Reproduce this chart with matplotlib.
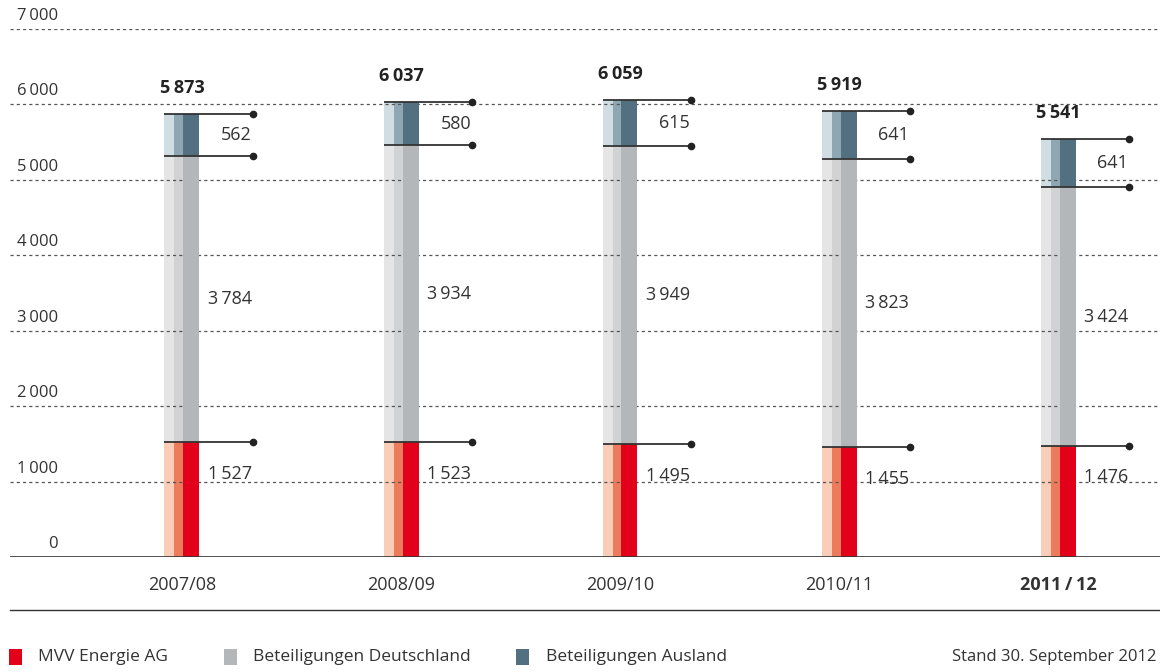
import matplotlib.pyplot as plt
from matplotlib.lines import Line2D
from matplotlib.patches import Rectangle

plt.rcParams['font.family'] = ['Open Sans', 'DejaVu Sans']

# ---- data ----
years = ['2007/08', '2008/09', '2009/10', '2010/11', '2011\u2009/\u200912']
mvv = [1527, 1523, 1495, 1455, 1476]
deutschland = [3784, 3934, 3949, 3823, 3424]
ausland = [562, 580, 615, 641, 641]
totals = [5873, 6037, 6059, 5919, 5541]
yticks = [0, 1000, 2000, 3000, 4000, 5000, 6000, 7000]
legend_labels = ['MVV Energie AG', 'Beteiligungen Deutschland', 'Beteiligungen Ausland']
note = 'Stand 30. September 2012'

# colours (light / medium / dark strip of each segment)
red_cols = ['#F9CDB7', '#EC7B5B', '#E2001A']
grey_cols = ['#E5E5E5', '#D0D2D4', '#B4B7BA']
blue_cols = ['#D0DDE3', '#8EA7B2', '#52707F']
txt = '#333333'


def fmt(v):
    return f'{v:,}'.replace(',', '\u2009')


W, H = 1160, 672
fig = plt.figure(figsize=(W / 100, H / 100), dpi=100)

# axes placed so that 0 sits at y=557px and 7000 at y=29px
ax = fig.add_axes([10 / W, (H - 557) / H, (W - 10) / W, (557 - 29) / H])
step = 219.0      # px between bar centres
x0 = 182.0        # px of first bar centre
ax.set_xlim((10 - x0) / step, (W - x0) / step)
ax.set_ylim(0, 7000)
ax.axis('off')
px = lambda p: p / step          # px -> x data units
py = 7000 / (557 - 29)           # data units per px in y

# grid
for v in yticks[1:]:
    ax.axhline(v, color='#555555', lw=0.9, ls=(0, (2.5, 2.5)), zorder=2)
    ax.text(px(58 - x0), v + 5 * py, fmt(v), ha='right', va='bottom',
            fontsize=12, color=txt, clip_on=False)
ax.text(px(58 - x0), 5 * py, '0', ha='right', va='bottom', fontsize=12, color=txt)
ax.axhline(0, color='#333333', lw=1.2, zorder=5)

strip_off = [-17.5, -7.5, 1.5]
strip_w = [10, 9, 16]

for i in range(len(years)):
    segs = [(0, mvv[i], red_cols),
            (mvv[i], deutschland[i], grey_cols),
            (mvv[i] + deutschland[i], ausland[i], blue_cols)]
    for bottom, h, cols in segs:
        for k in range(3):
            ax.bar(i + px(strip_off[k]), h, width=px(strip_w[k]), bottom=bottom,
                   align='edge', color=cols[k], lw=0, zorder=1 if k < 2 else 3)

    # connector lines with dot
    for lvl in [mvv[i], mvv[i] + deutschland[i], totals[i]]:
        ax.plot([i + px(-17.5), i + px(71)], [lvl, lvl], color='#333333', lw=1.3,
                zorder=4, solid_capstyle='butt')
        ax.plot(i + px(71), lvl, 'o', color='#222222', ms=4.5, zorder=4)

    # value labels
    xr = i + px(70)
    ax.text(xr, mvv[i] + deutschland[i] + ausland[i] / 2, fmt(ausland[i]),
            ha='right', va='center', fontsize=13, color=txt)
    ax.text(xr, mvv[i] + deutschland[i] / 2, fmt(deutschland[i]),
            ha='right', va='center', fontsize=13, color=txt)
    ax.text(xr, mvv[i] - 420, fmt(mvv[i]),
            ha='right', va='center', fontsize=13, color=txt)
    ax.text(i, totals[i] + 17 * py, fmt(totals[i]), ha='center', va='bottom',
            fontsize=13, fontweight='bold', color='#222222', clip_on=False)

    # category labels
    ax.text(i, -28 * py, years[i], ha='center', va='center', fontsize=13,
            color=txt, fontweight='bold' if i == len(years) - 1 else 'normal',
            clip_on=False)

# separator line
fig.add_artist(Line2D([10 / W, 1], [(H - 610) / H] * 2, color='#333333', lw=1.0,
                      transform=fig.transFigure))

# legend
ly = (H - 657) / H
for x_rect, x_txt, col, lab in zip([9, 224, 516], [38, 253, 546],
                                    [red_cols[2], grey_cols[2], blue_cols[2]],
                                    legend_labels):
    fig.add_artist(Rectangle((x_rect / W, (H - 665) / H), 13 / W, 16 / H,
                             color=col, transform=fig.transFigure, lw=0))
    fig.text(x_txt / W, ly, lab, ha='left', va='center', fontsize=12.5, color=txt)
fig.text(1156 / W, ly, note, ha='right', va='center', fontsize=12, color=txt)

fig.savefig('out.png', dpi=100)
